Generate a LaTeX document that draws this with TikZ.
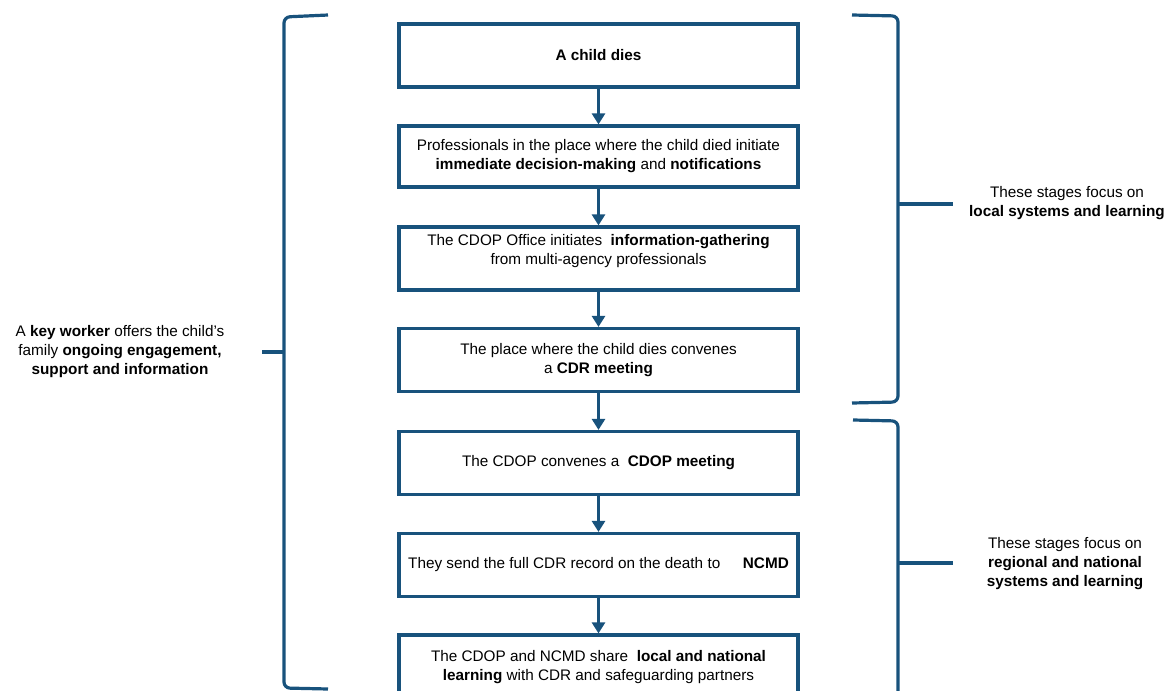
\documentclass[tikz,border=0pt]{standalone}
\usepackage{fontspec}
\setmainfont{Liberation Sans}
\usetikzlibrary{arrows.meta}
\definecolor{cdblue}{RGB}{24,82,124}
\begin{document}
\begin{tikzpicture}[x=1pt,y=-1pt,
  every node/.style={font=\fontsize{15.3}{19}\selectfont, text=black},
  stagebox/.style={draw=cdblue, line width=3.2pt, minimum width=399pt, inner sep=0pt, align=center},
  flow/.style={draw=cdblue, line width=3.2pt, -{Triangle[width=13pt,length=11pt]}},
  brace/.style={draw=cdblue, line width=3.2pt, rounded corners=6pt},
  note/.style={align=center, inner sep=0pt}]
\useasboundingbox (0,0) rectangle (1168,691);

\node[stagebox, minimum height=63pt] (s1) at (598.5,55.5) {\textbf{A child dies}};
\node[stagebox, minimum height=61pt] (s2) at (598.5,156.5) {Professionals in the place where the child died initiate\\ \textbf{immediate decision-making} and \textbf{notifications}};
\node[stagebox, minimum height=63pt] (s3) at (598.5,258.5) {The CDOP Office initiates \ \textbf{information-gathering}\\ from multi-agency professionals\\ \mbox{}};
\node[stagebox, minimum height=63pt] (s4) at (598.5,360) {The place where the child dies convenes\\ a \textbf{CDR meeting}};
\node[stagebox, minimum height=63pt] (s5) at (598.5,463) {The CDOP convenes a \ \textbf{CDOP meeting}};
\node[stagebox, minimum height=63pt] (s6) at (598.5,565) {They send the full CDR record on the death to \hspace{1.2em}\textbf{NCMD}};
\node[stagebox, minimum height=64pt] (s7) at (598.5,667) {The CDOP and NCMD share \ \textbf{local and national}\\ \textbf{learning} with CDR and safeguarding partners};

\draw[flow] (s1.south) -- (s2.north);
\draw[flow] (s2.south) -- (s3.north);
\draw[flow] (s3.south) -- (s4.north);
\draw[flow] (s4.south) -- (s5.north);
\draw[flow] (s5.south) -- (s6.north);
\draw[flow] (s6.south) -- (s7.north);

% left bracket
\draw[brace] (328,15) -- (284,17) -- (284,688) -- (328,689);
\draw[cdblue, line width=3.2pt] (262,352) -- (284,352);
\node[note] (keyworker) at (120,352) {A \textbf{key worker} offers the child’s\\ family \textbf{ongoing engagement,}\\ \textbf{support and information}};

% right top bracket
\draw[brace] (852,15) -- (898,16) -- (898,402) -- (852,403);
\draw[cdblue, line width=3.2pt] (898,204) -- (953,204);
\node[note] (local) at (1067,203) {These stages focus on\\ \textbf{local systems and learning}};

% right bottom bracket
\draw[brace] (853,420) -- (898,421) -- (898,710);
\draw[cdblue, line width=3.2pt] (898,563) -- (953,563);
\node[note] (national) at (1065,564) {These stages focus on\\ \textbf{regional and national}\\ \textbf{systems and learning}};
\end{tikzpicture}
\end{document}
